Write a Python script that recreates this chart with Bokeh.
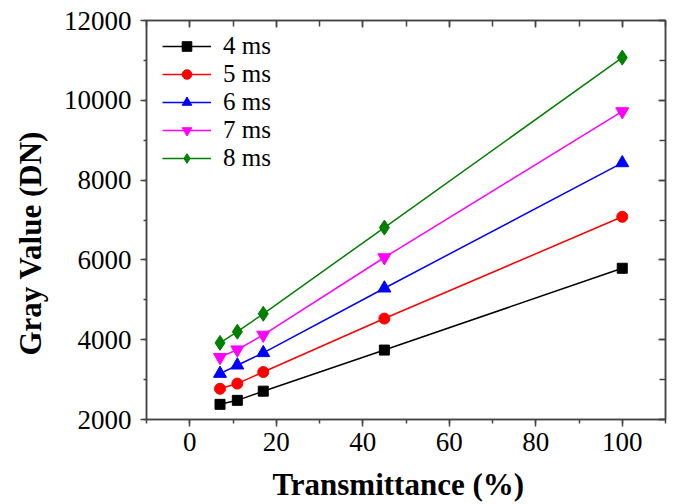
from bokeh.plotting import figure
from bokeh.models import (LinearAxis, Range1d, FixedTicker, CustomJSTickFormatter,
                          Legend, LegendItem, Title)
from bokeh.embed import file_html
from bokeh.resources import INLINE

# ---- data ----
transmittance = [7, 11, 17, 45, 100]
labels = ["4 ms", "5 ms", "6 ms", "7 ms", "8 ms"]
ms4 = [2380, 2480, 2710, 3740, 5790]
ms5 = [2770, 2900, 3190, 4530, 7080]
ms6 = [3150, 3360, 3670, 5290, 8430]
ms7 = [3560, 3750, 4120, 6060, 9720]
ms8 = [3920, 4200, 4650, 6810, 11070]
x_ticks = [0, 20, 40, 60, 80, 100]
y_ticks = [2000, 4000, 6000, 8000, 10000, 12000]

series = [ms4, ms5, ms6, ms7, ms8]
colors = ["#000000", "#FF0000", "#0000FF", "#FF00FF", "#007F00"]
markers = ["square", "circle", "triangle", "inverted_triangle", "diamond"]
msizes = [10, 11, 13, 13, 15]

FONT = "Liberation Serif"
AX = "#444444"
NB = "\u00a0"

p = figure(width=670, height=504, output_backend="svg", toolbar_location=None,
           x_range=Range1d(-10, 110), y_range=Range1d(2000, 12000),
           min_border_left=146, min_border_right=5, min_border_top=20,
           min_border_bottom=85, x_axis_location="below", y_axis_location="left")
p.grid.visible = False
p.outline_line_color = AX
p.outline_line_width = 1.5
p.background_fill_color = "white"
p.border_fill_color = "white"

items = []
for ys, c, m, s, lab in zip(series, colors, markers, msizes, labels):
    r1 = p.line(transmittance, ys, line_color=c, line_width=1.5)
    r2 = p.scatter(transmittance, ys, marker=m, size=s,
                   fill_color=c, line_color=c)
    items.append(LegendItem(label=lab, renderers=[r1, r2]))

def style_main(ax, ticks, minor, out_major, out_minor):
    ax.ticker = FixedTicker(ticks=ticks, minor_ticks=minor)
    ax.axis_line_color = AX
    ax.axis_line_width = 1.5
    ax.major_tick_line_color = AX
    ax.minor_tick_line_color = AX
    ax.major_tick_line_width = 1.5
    ax.minor_tick_line_width = 1.5
    ax.major_tick_in = 0
    ax.major_tick_out = out_major
    ax.minor_tick_in = 0
    ax.minor_tick_out = out_minor
    ax.major_label_text_font = FONT
    ax.major_label_text_font_size = "27px"
    ax.major_label_text_color = "black"
    ax.axis_label_text_font = FONT
    ax.axis_label_text_font_style = "bold"
    ax.axis_label_text_color = "black"

x_minor = list(range(-10, 111, 10))
y_minor = list(range(2000, 12001, 1000))

xa = p.xaxis[0]
style_main(xa, x_ticks, x_minor, 7, 4)
xa.axis_label = "Transmittance (%)" + NB * 2
xa.axis_label_text_font_size = "31px"
xa.major_label_standoff = 6
xa.axis_label_standoff = 13

ya = p.yaxis[0]
style_main(ya, y_ticks, y_minor, 6, 3)
ya.major_label_standoff = 9

ytitle = Title(text="Gray Value (DN)", align="left", offset=64,
               vertical_align="top",
               text_font=FONT, text_font_size="31px", text_font_style="bold",
               text_color="black", standoff=22)
p.add_layout(ytitle, "left")

blank = CustomJSTickFormatter(code="return ''")
for loc, ticks, minor in (("above", x_ticks, x_minor), ("right", y_ticks, y_minor)):
    a = LinearAxis(ticker=FixedTicker(ticks=ticks, minor_ticks=minor), formatter=blank)
    a.axis_line_color = AX
    a.axis_line_width = 1.5
    a.major_tick_line_color = AX
    a.minor_tick_line_color = AX
    a.major_tick_line_width = 1.5
    a.minor_tick_line_width = 1.5
    a.major_tick_in = 7
    a.major_tick_out = 0
    a.minor_tick_in = 6
    a.minor_tick_out = 0
    a.major_label_standoff = 0
    a.major_label_text_font_size = "1px"
    p.add_layout(a, loc)

legend = Legend(items=items, location=(16, 247))
legend.label_text_font = FONT
legend.label_text_font_size = "25px"
legend.label_text_line_height = 1.0
legend.label_text_color = "black"
legend.glyph_width = 49
legend.glyph_height = 24
legend.label_height = 24
legend.label_standoff = 12
legend.spacing = 0
legend.padding = 0
legend.margin = 0
legend.border_line_color = None
legend.background_fill_alpha = 0
p.add_layout(legend, "center")

open("out.html", "w").write(file_html(p, INLINE))
